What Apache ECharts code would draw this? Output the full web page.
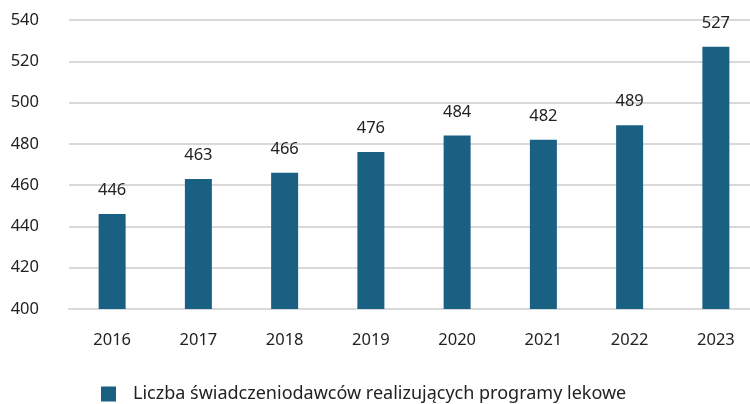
<!DOCTYPE html>
<html>
<head>
<meta charset="utf-8">
<script src="https://cdn.jsdelivr.net/npm/echarts@6/dist/echarts.min.js"></script>
<style>
  html, body { margin: 0; padding: 0; background: #fff; }
  #chart { width: 750px; height: 404px; }
</style>
</head>
<body>
<div id="chart"></div>
<script>
// dane
const years = ['2016', '2017', '2018', '2019', '2020', '2021', '2022', '2023'];
const providers = [446, 463, 466, 476, 484, 482, 489, 527];
const seriesName = 'Liczba świadczeniodawców realizujących programy lekowe';

const font = 'Noto Sans';
const textColor = '#222';

const myChart = echarts.init(document.getElementById('chart'));
myChart.setOption({
    animation: false,
    textStyle: { fontFamily: font },
    grid: {
        left: 69,
        width: 690,
        top: 20,
        height: 289,
        outerBoundsMode: 'none',
        containLabel: false
    },
    legend: {
        top: 385,
        left: 101,
        padding: 0,
        itemWidth: 15,
        itemHeight: 15,
        itemGap: 20,
        icon: 'rect',
        textStyle: { fontSize: 18, color: textColor, fontFamily: font, padding: [0, 0, 0, 12] },
        data: [seriesName]
    },
    xAxis: {
        type: 'category',
        data: years,
        axisLine: { lineStyle: { color: '#d9d9d9', width: 2 } },
        axisTick: { show: false },
        axisLabel: { fontSize: 16.5, color: textColor, margin: 23, fontFamily: font }
    },
    yAxis: {
        type: 'value',
        min: 400,
        max: 540,
        interval: 20,
        axisLine: { show: false },
        axisTick: { show: false },
        splitLine: { lineStyle: { color: '#d9d9d9', width: 2 } },
        axisLabel: { fontSize: 16.5, color: textColor, margin: 30, fontFamily: font }
    },
    series: [{
        name: seriesName,
        type: 'bar',
        data: providers,
        barWidth: 27,
        itemStyle: { color: '#1a6083' },
        label: {
            show: true,
            position: 'top',
            distance: 15,
            fontSize: 16.5,
            color: textColor,
            fontFamily: font
        }
    }]
});
</script>
</body>
</html>
